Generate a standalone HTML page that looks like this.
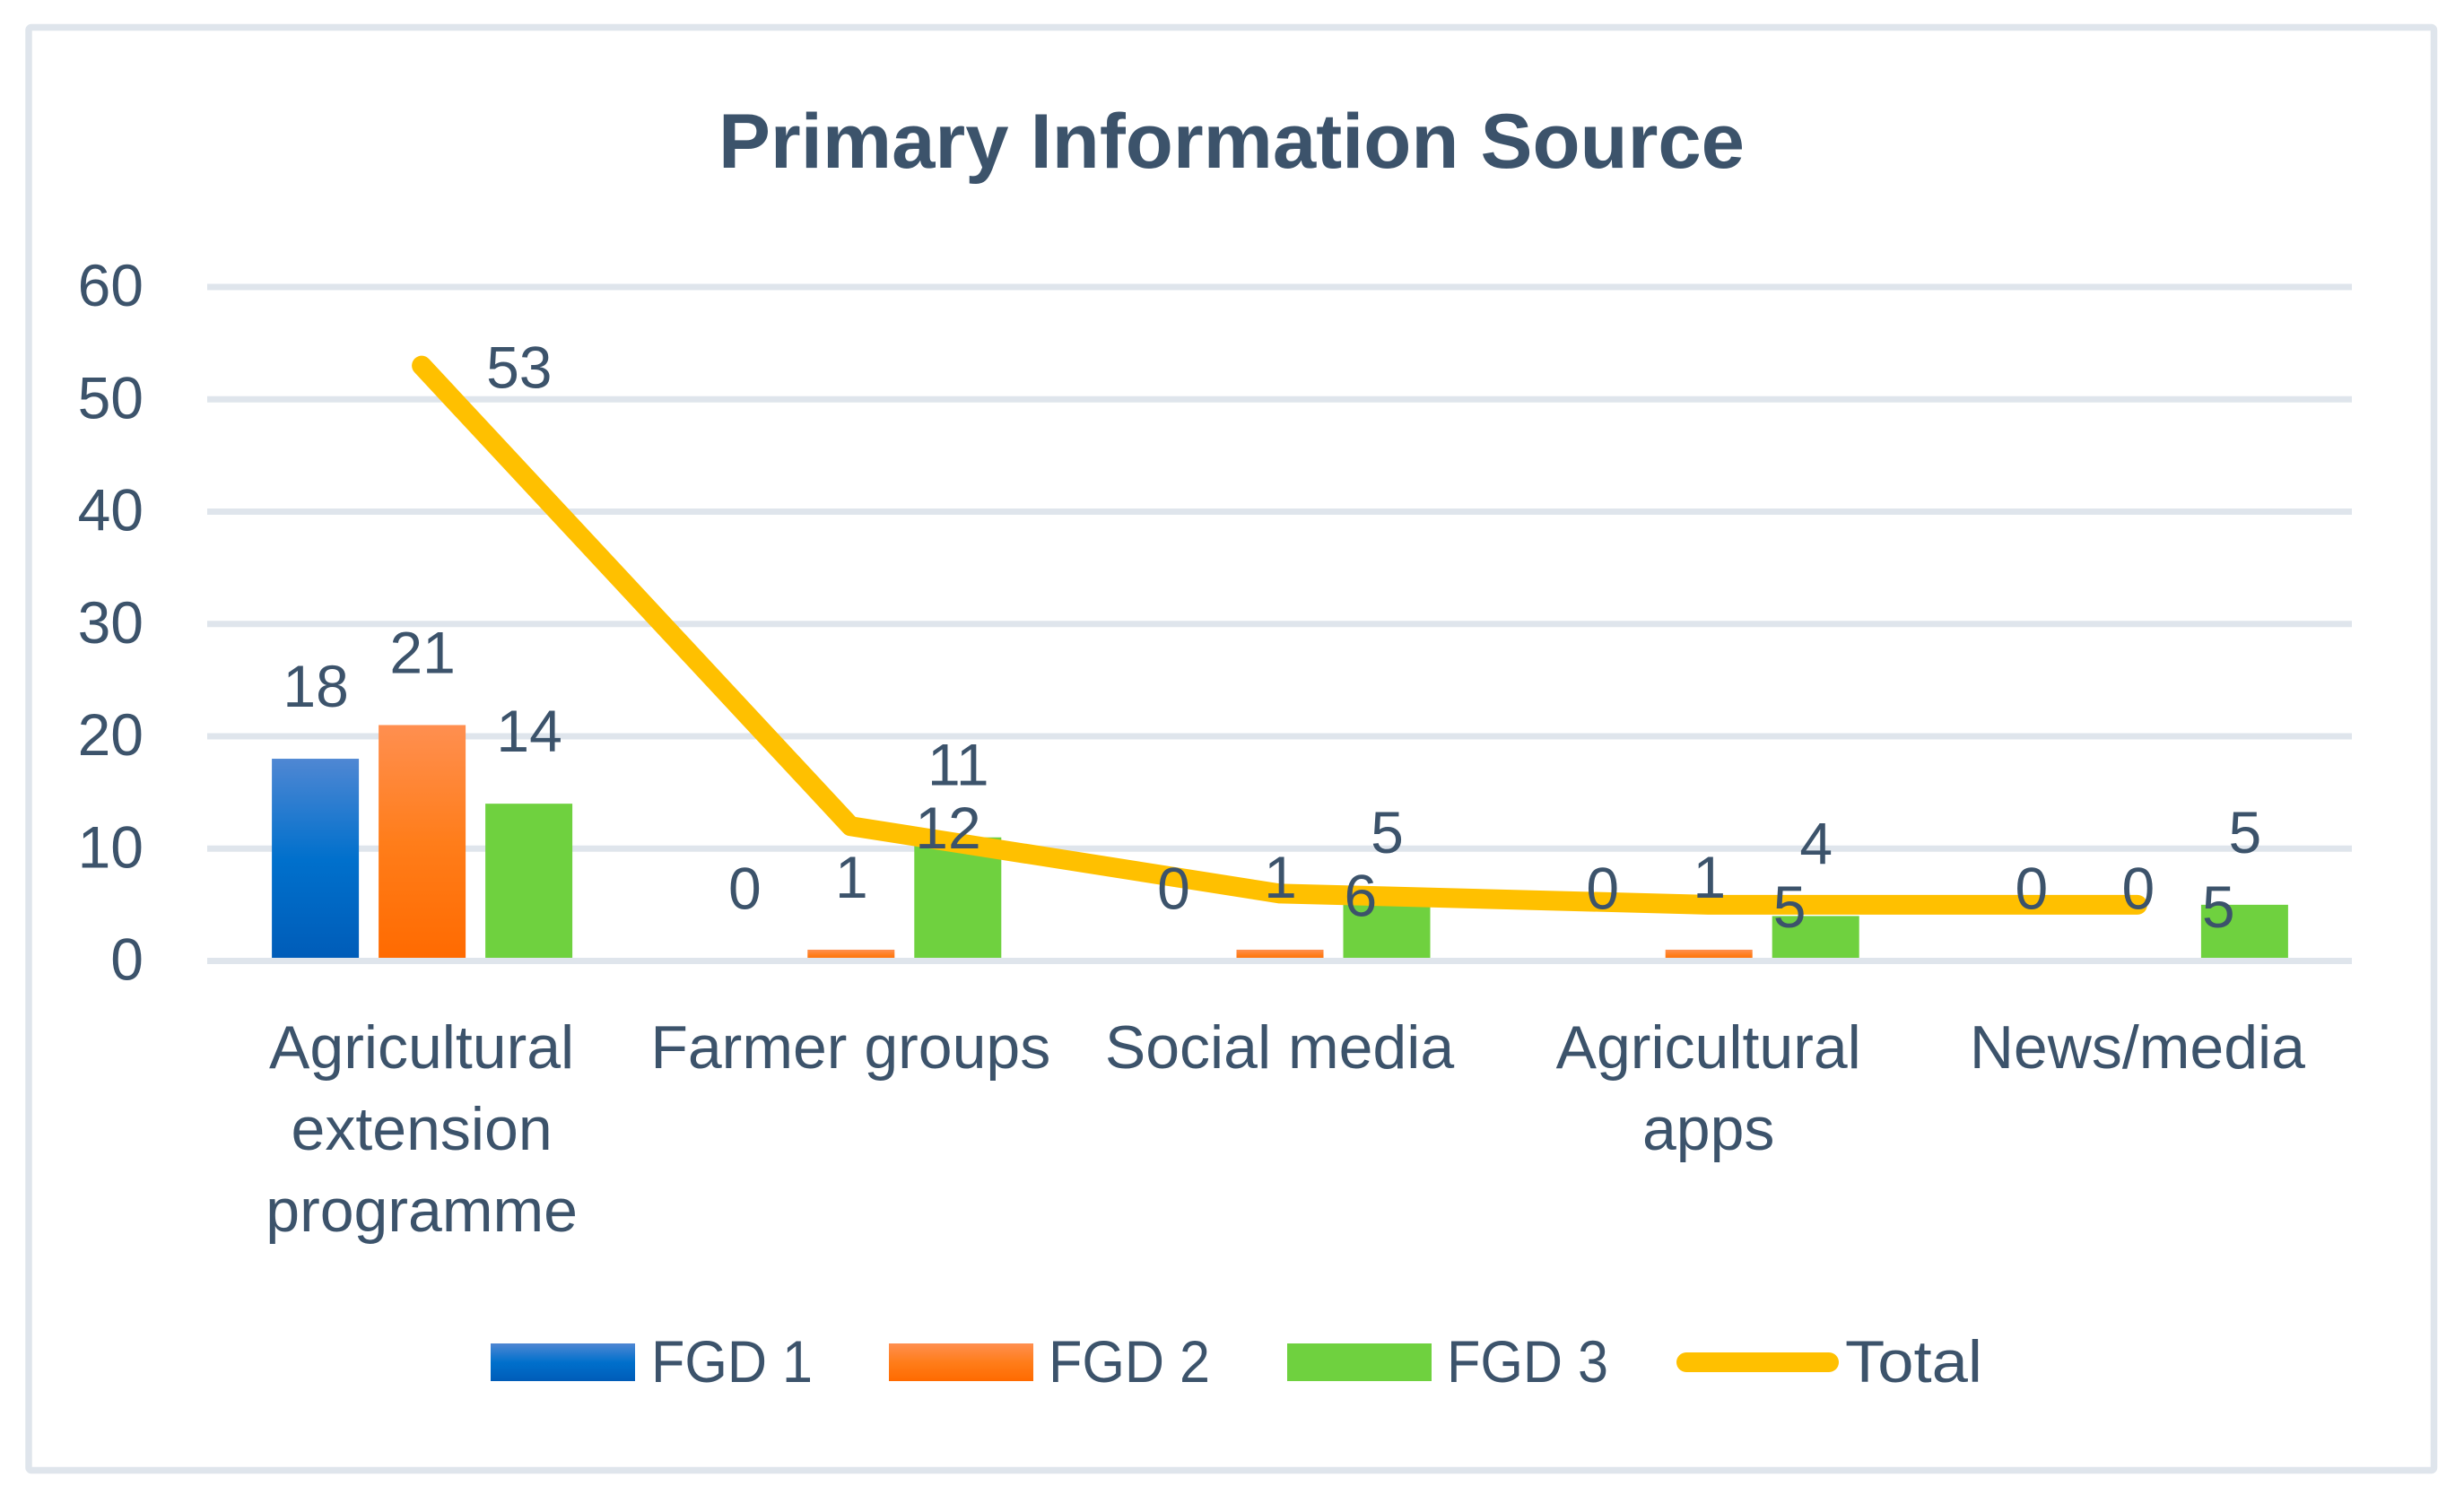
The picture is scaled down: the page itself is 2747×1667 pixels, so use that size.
<!DOCTYPE html>
<html lang="en">
<head>
<meta charset="utf-8">
<title>Primary Information Source</title>
<style>
html,body{margin:0;padding:0;background:#fff;}
svg{display:block;}
text{font-family:"Liberation Sans",sans-serif;fill:#3c536b;}
</style>
</head>
<body>
<svg id="chart" xmlns="http://www.w3.org/2000/svg" width="2747" height="1667" viewBox="0 0 2747 1667">
  <defs>
    <linearGradient id="grad-blue" x1="0" y1="0" x2="0" y2="1">
      <stop offset="0" stop-color="#4f87d3"/><stop offset="0.5" stop-color="#0070cc"/><stop offset="1" stop-color="#005cb8"/>
    </linearGradient>
    <linearGradient id="grad-orange" x1="0" y1="0" x2="0" y2="1">
      <stop offset="0" stop-color="#ff8f50"/><stop offset="0.5" stop-color="#ff7d1a"/><stop offset="1" stop-color="#ff6a00"/>
    </linearGradient>
  </defs>
  <rect x="32" y="30.5" width="2681.5" height="1609" rx="3" fill="#fff" stroke="#dfe5ec" stroke-width="7.5"/>
  <text x="1373" y="187" font-size="86" font-weight="700" text-anchor="middle" textLength="1144" lengthAdjust="spacingAndGlyphs">Primary Information Source</text>
  <g id="grid"></g>
  <g id="y-ticks"></g>
  <g id="bars"></g>
  <g id="axis"></g>
  <g id="line"></g>
  <g id="values"></g>
  <g id="cats"></g>
  <g>
    <g>
      <rect x="547" y="1498" width="161" height="42" fill="url(#grad-blue)"/>
      <text x="726" y="1541" font-size="66" textLength="180" lengthAdjust="spacingAndGlyphs">FGD 1</text>
    </g>
    <g>
      <rect x="991" y="1498" width="161" height="42" fill="url(#grad-orange)"/>
      <text x="1169" y="1541" font-size="66" textLength="180" lengthAdjust="spacingAndGlyphs">FGD 2</text>
    </g>
    <g>
      <rect x="1435" y="1498" width="161" height="42" fill="#6fd13f"/>
      <text x="1613" y="1541" font-size="66" textLength="180" lengthAdjust="spacingAndGlyphs">FGD 3</text>
    </g>
    <g>
      <line x1="1880" y1="1519" x2="2039" y2="1519" stroke="#ffc000" stroke-width="22" stroke-linecap="round"/>
      <text x="2057" y="1541" font-size="66" textLength="153" lengthAdjust="spacingAndGlyphs">Total</text>
    </g>
  </g>
</svg>
<script>
const categories = [["Agricultural","extension","programme"],["Farmer groups"],["Social media"],["Agricultural","apps"],["News/media"]];
const fgd1 = [18,0,0,0,0];
const fgd2 = [21,1,1,1,0];
const fgd3 = [14,11,5,4,5];
const total = [53,12,6,5,5];
const yTicks = [0,10,20,30,40,50,60];

const NS = "http://www.w3.org/2000/svg";
const plotLeft = 231, plotRight = 2622, zeroY = 1071.5, topY = 320, yMax = 60;
const catWidth = (plotRight - plotLeft) / categories.length;
function xCenter(i){ return plotLeft + catWidth * (i + 0.5); }
function yScale(v){ return zeroY - (zeroY - topY) * v / yMax; }
function make(tag, attrs, parent, content){
  const el = document.createElementNS(NS, tag);
  for (const k in attrs) el.setAttribute(k, attrs[k]);
  if (content !== undefined) el.textContent = content;
  parent.appendChild(el);
  return el;
}
const gGrid = document.getElementById("grid");
const gTicks = document.getElementById("y-ticks");
const gBars = document.getElementById("bars");
const gAxis = document.getElementById("axis");
const gLine = document.getElementById("line");
const gValues = document.getElementById("values");
const gCats = document.getElementById("cats");

yTicks.forEach(function(t){
  const ln = make("line",{x1:plotLeft,x2:plotRight,y1:yScale(t),y2:yScale(t),stroke:"#dfe5ec","stroke-width":7},gGrid);
  
  
  const tx = make("text",{x:160,y:yScale(t)+21,"font-size":66,"text-anchor":"end"},gTicks,String(t));
  
  
});

const barWidth = 97, barStep = 119;
const seriesList = [
  {values:fgd1, fill:"url(#grad-blue)", offset:-1},
  {values:fgd2, fill:"url(#grad-orange)", offset:0},
  {values:fgd3, fill:"#6fd13f", offset:1}
];
seriesList.forEach(function(s){
  s.values.forEach(function(v,i){
    const cx = xCenter(i) + s.offset * barStep;
    const r = make("rect",{x:cx-barWidth/2+0.5,y:yScale(v),width:barWidth,height:zeroY-yScale(v),fill:s.fill},gBars);
    
    
    const lb = make("text",{x:cx+1,y:yScale(v)-58,"font-size":66,"text-anchor":"middle"},gValues,String(v));
    
    
  });
});

const axisLine = make("line",{x1:plotLeft,x2:plotRight,y1:yScale(0),y2:yScale(0),stroke:"#dfe5ec","stroke-width":7},gAxis);



const pts = total.map(function(v,i){ return xCenter(i)+","+yScale(v); }).join(" ");
const poly = make("polyline",{points:pts,fill:"none",stroke:"#ffc000","stroke-width":22,"stroke-linecap":"round","stroke-linejoin":"round"},gLine);



total.forEach(function(v,i){
  const lb = make("text",{x:xCenter(i)+72,y:yScale(v)+25,"font-size":66},gValues,String(v));
  
  
});

categories.forEach(function(lines,i){
  lines.forEach(function(txt,j){
    const c = make("text",{x:xCenter(i),y:1191+91*j,"font-size":68,"text-anchor":"middle"},gCats,txt);
    
    
  });
});
</script>
</body>
</html>
